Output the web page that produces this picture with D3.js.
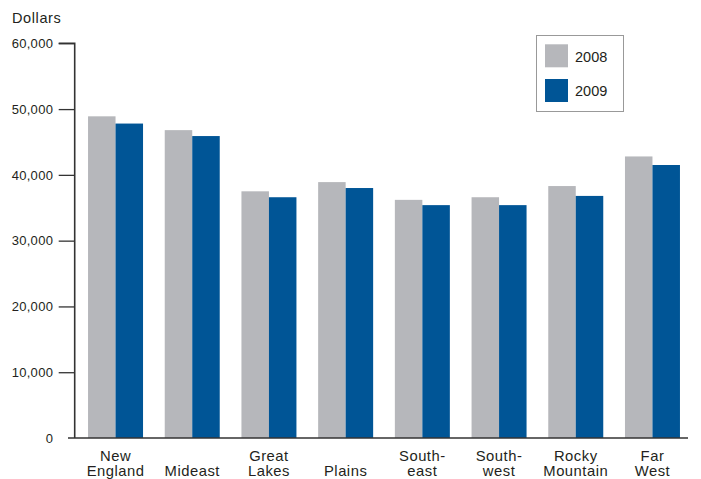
<!DOCTYPE html>
<html>
<head>
<meta charset="utf-8">
<script src="https://cdn.jsdelivr.net/npm/d3@7"></script>
<style>
  html, body { margin: 0; padding: 0; background: #fff; }
  svg { display: block; font-family: "Liberation Sans", Arial, sans-serif; }
</style>
</head>
<body>
<svg id="chart" width="701" height="479"></svg>
<script>
// Per-capita personal income by region, 2008 vs 2009
const regions = [["New", "England"], ["Mideast"], ["Great", "Lakes"], ["Plains"],
                 ["South-", "east"], ["South-", "west"], ["Rocky", "Mountain"], ["Far", "West"]];
const years = ["2008", "2009"];
const income2008 = [48900, 46800, 37500, 38900, 36200, 36600, 38300, 42800];
const income2009 = [47800, 45900, 36600, 38000, 35400, 35400, 36800, 41500];
const yTicks = [0, 10000, 20000, 30000, 40000, 50000, 60000];

const colors = { "2008": "#b6b7bb", "2009": "#005596" };
const ink = "#231f20";

const svg = d3.select("#chart");

const regionKeys = regions.map(r => r.join(" "));
const x0 = d3.scaleBand().domain(regionKeys).range([77.3, 690.7])
  .paddingInner(0.283).paddingOuter(0.14);
const x1 = d3.scaleBand().domain(years).range([0, x0.bandwidth()]);
const y = d3.scaleLinear().domain([0, 60000]).range([438, 43.3]);

// bars
const rows = regionKeys.map((k, i) => ({ key: k, values: [
  { year: "2008", v: income2008[i] }, { year: "2009", v: income2009[i] }] }));

const groups = svg.append("g").selectAll("g").data(rows).join("g")
  .attr("transform", d => `translate(${x0(d.key)},0)`);
groups.selectAll("rect").data(d => d.values).join("rect")
  .attr("x", d => x1(d.year))
  .attr("width", x1.bandwidth())
  .attr("y", d => y(d.v))
  .attr("height", d => y(0) - y(d.v))
  .attr("fill", d => colors[d.year]);

// y axis
const yAxis = svg.append("g").attr("transform", "translate(74.7,0)")
  .call(d3.axisLeft(y).tickValues(yTicks).tickSize(16).tickPadding(6)
    .tickFormat(d3.format(",")));
yAxis.select(".domain").attr("stroke", "#333").attr("stroke-width", 1.6)
  .attr("d", `M-16,${y(60000)}H0V${y(0)}`);
yAxis.selectAll(".tick line").attr("stroke", "#333").attr("stroke-width", 1.3);
yAxis.selectAll(".tick").filter(d => d === 0).select("line").remove();
yAxis.selectAll(".tick text").attr("fill", ink)
  .attr("font-size", 13).attr("letter-spacing", 0.3)
  .attr("x", -21.5);

// x baseline
svg.append("line").attr("x1", 68).attr("x2", 688)
  .attr("y1", y(0)).attr("y2", y(0))
  .attr("stroke", "#333").attr("stroke-width", 1.6);

// region labels
const labels = svg.append("g").selectAll("text").data(regions).join("text")
  .attr("x", (d, i) => x0(regionKeys[i]) + x0.bandwidth() / 2)
  .attr("text-anchor", "middle")
  .attr("fill", ink).attr("font-size", 14.8).attr("letter-spacing", 0.5);
labels.each(function(d) {
  const t = d3.select(this);
  const base = d.length === 1 ? [476] : [460.7, 476];
  d.forEach((line, j) => t.append("tspan")
    .attr("x", t.attr("x")).attr("y", base[j]).text(line));
});

// axis title
svg.append("text").attr("x", 12).attr("y", 23.3)
  .attr("fill", ink).attr("font-size", 14.5).attr("letter-spacing", 0.6)
  .text("Dollars");

// legend
const legend = svg.append("g");
legend.append("rect").attr("x", 536.5).attr("y", 35.5).attr("width", 87).attr("height", 76)
  .attr("fill", "#fff").attr("stroke", "#999").attr("stroke-width", 1);
years.forEach((yr, i) => {
  legend.append("rect").attr("x", 545).attr("y", 44.3 + i * 34.7)
    .attr("width", 23).attr("height", 23).attr("fill", colors[yr]);
  legend.append("text").attr("x", 575).attr("y", 61.7 + i * 34.5)
    .attr("fill", ink).attr("font-size", 14.5).text(yr);
});
</script>
</body>
</html>
